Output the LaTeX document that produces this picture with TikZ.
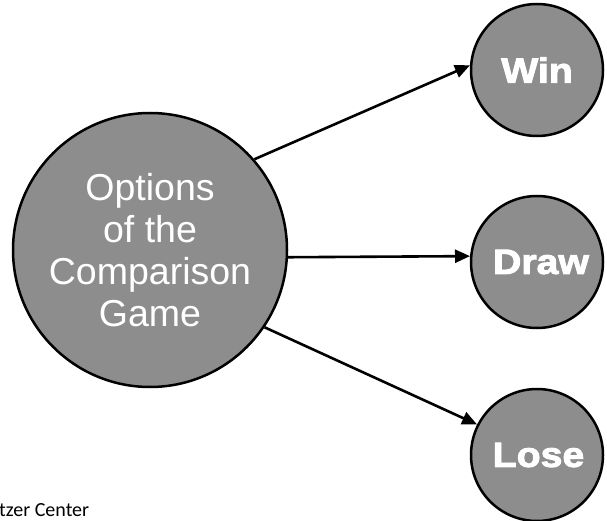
\documentclass[tikz,border=0pt]{standalone}
\usepackage{fontspec}
\setmainfont{Liberation Sans}
\newfontfamily\blkfont[FakeBold=2.6,FakeStretch=1.12]{Liberation Sans Bold}
\newfontfamily\calfont{Carlito}
\usetikzlibrary{arrows.meta}
\definecolor{fillgray}{RGB}{141,141,141}
\begin{document}
\begin{tikzpicture}[x=1pt,y=-1pt,
  bigcirc/.style={circle,draw=black,line width=2.5pt,fill=fillgray,minimum size=274pt,inner sep=0pt,
    text=white,align=center,font=\fontsize{37.5}{42}\selectfont},
  smallcirc/.style={circle,draw=black,line width=2.5pt,fill=fillgray,minimum size=132pt,inner sep=0pt,
    text=white,font=\blkfont\fontsize{35}{40}\selectfont},
  conn/.style={line width=2.6pt,-{Triangle[length=15pt,width=13pt]}}]
\useasboundingbox (0,0) rectangle (607,521);
\clip (0,0) rectangle (607,521);
\node[bigcirc] (big) at (150,250) {Options\\of the\\Comparison\\Game};
\node[smallcirc] (win) at (537,70) {Win};
\node[smallcirc] (draw) at (537,262) {\hspace*{8pt}Draw};
\node[smallcirc] (lose) at (537,455) {\hspace*{3pt}Lose};
\draw[conn] (big.41) -- (win.176);
\draw[conn] (big.-3) -- (draw.175);
\draw[conn] (big.-34.6) -- (lose.153);
\node[anchor=base west,inner sep=0pt,font=\calfont\fontsize{20}{22}\selectfont] (credit) at (-1,516) {tzer Center};
\end{tikzpicture}
\end{document}
